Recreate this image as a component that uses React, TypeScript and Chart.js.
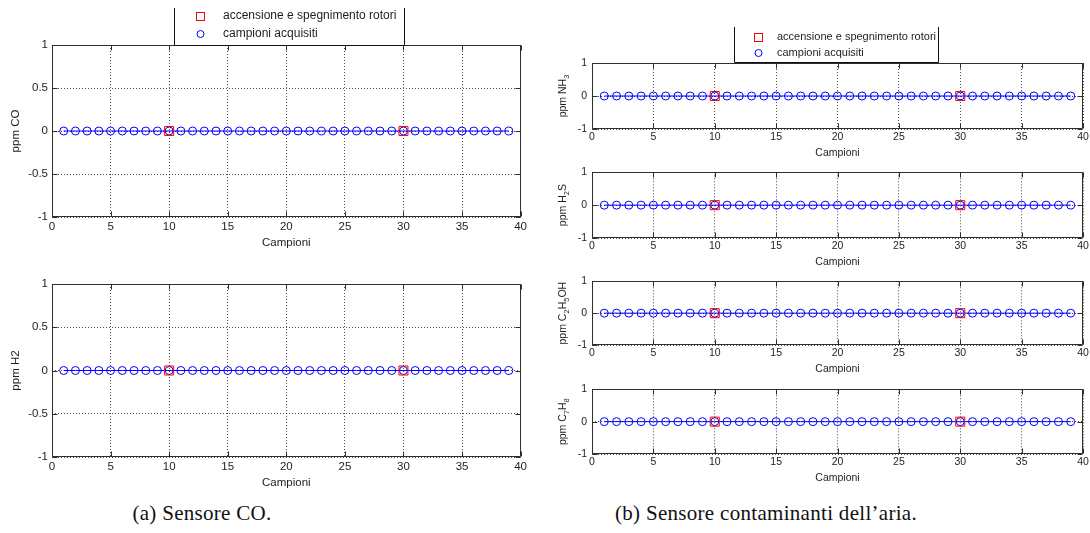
import React, { useEffect, useRef } from 'react';
import { Chart, registerables } from 'chart.js';

Chart.register(...registerables);

// ---------------- data ----------------
const samples = [1, 2, 3, 4, 5, 6, 7, 8, 9, 10, 11, 12, 13, 14, 15, 16, 17, 18, 19, 20, 21, 22, 23, 24, 25, 26, 27, 28, 29, 30, 31, 32, 33, 34, 35, 36, 37, 38, 39];
const coValues = [0, 0, 0, 0, 0, 0, 0, 0, 0, 0, 0, 0, 0, 0, 0, 0, 0, 0, 0, 0, 0, 0, 0, 0, 0, 0, 0, 0, 0, 0, 0, 0, 0, 0, 0, 0, 0, 0, 0];
const h2Values = [0, 0, 0, 0, 0, 0, 0, 0, 0, 0, 0, 0, 0, 0, 0, 0, 0, 0, 0, 0, 0, 0, 0, 0, 0, 0, 0, 0, 0, 0, 0, 0, 0, 0, 0, 0, 0, 0, 0];
const nh3Values = [0, 0, 0, 0, 0, 0, 0, 0, 0, 0, 0, 0, 0, 0, 0, 0, 0, 0, 0, 0, 0, 0, 0, 0, 0, 0, 0, 0, 0, 0, 0, 0, 0, 0, 0, 0, 0, 0, 0];
const h2sValues = [0, 0, 0, 0, 0, 0, 0, 0, 0, 0, 0, 0, 0, 0, 0, 0, 0, 0, 0, 0, 0, 0, 0, 0, 0, 0, 0, 0, 0, 0, 0, 0, 0, 0, 0, 0, 0, 0, 0];
const c2h5ohValues = [0, 0, 0, 0, 0, 0, 0, 0, 0, 0, 0, 0, 0, 0, 0, 0, 0, 0, 0, 0, 0, 0, 0, 0, 0, 0, 0, 0, 0, 0, 0, 0, 0, 0, 0, 0, 0, 0, 0];
const c7h8Values = [0, 0, 0, 0, 0, 0, 0, 0, 0, 0, 0, 0, 0, 0, 0, 0, 0, 0, 0, 0, 0, 0, 0, 0, 0, 0, 0, 0, 0, 0, 0, 0, 0, 0, 0, 0, 0, 0, 0];
const eventSamples = [10, 30];
const eventValues = [0, 0];

const xTickValues = [0, 5, 10, 15, 20, 25, 30, 35, 40];
const yTicksFine = [-1, -0.5, 0, 0.5, 1];
const yTicksCoarse = [-1, 0, 1];
const legendLabels = ['accensione e spegnimento rotori', 'campioni acquisiti'];
const xTitle = 'Campioni';
// "_" marks the next character as a subscript
const yTitles = ['ppm CO', 'ppm H2', 'ppm NH_3', 'ppm H_2S', 'ppm C_2H_5OH', 'ppm C_7H_8'];
const captions = ['(a) Sensore CO.', '(b) Sensore contaminanti dell’aria.'];

// ---------------- styles ----------------
const FONT = '"Liberation Sans", Arial, Helvetica, sans-serif';
const TEXT = '#1e1e1e';
const AXIS = '#2e2e2e';
const GRID = 'rgba(0,0,0,0.7)';
const RED = '#ff0000';
const BLUE = '#0000ff';

type LegendSpec = {
  x0: number; x1: number; y0: number; y1: number;
  markerX: number; textX: number; row1: number; row2: number;
  fontSize: number; square: number; circle: number;
};

function parseRich(s: string) {
  const segs: { t: string; sub: boolean }[] = [];
  let i = 0;
  let buf = '';
  while (i < s.length) {
    if (s[i] === '_' && i + 1 < s.length) {
      if (buf) segs.push({ t: buf, sub: false });
      buf = '';
      segs.push({ t: s[i + 1], sub: true });
      i += 2;
    } else {
      buf += s[i];
      i += 1;
    }
  }
  if (buf) segs.push({ t: buf, sub: false });
  return segs;
}

const matlabAxes = {
  id: 'matlabAxes',
  afterDraw(chart: any, _args: any, opts: any) {
    const { ctx, chartArea: a, scales } = chart;
    ctx.save();
    ctx.strokeStyle = AXIS;
    ctx.lineWidth = 1;
    ctx.setLineDash([]);
    const L = Math.round(a.left) + 0.5;
    const R = Math.round(a.right) - 0.5;
    const T = Math.round(a.top) + 0.5;
    const B = Math.round(a.bottom) - 0.5;
    const tl = opts.tickLength || 5;
    ctx.beginPath();
    ctx.rect(L, T, R - L, B - T);
    scales.x.ticks.forEach((t: any) => {
      const px = Math.round(scales.x.getPixelForValue(t.value)) + 0.5;
      ctx.moveTo(px, B); ctx.lineTo(px, B - tl);
      ctx.moveTo(px, T); ctx.lineTo(px, T + tl);
    });
    scales.y.ticks.forEach((t: any) => {
      const py = Math.round(scales.y.getPixelForValue(t.value)) + 0.5;
      ctx.moveTo(L, py); ctx.lineTo(L + tl, py);
      ctx.moveTo(R, py); ctx.lineTo(R - tl, py);
    });
    ctx.stroke();

    // rotated y title with subscripts
    if (opts.yTitle) {
      const size = opts.titleSize;
      const subSize = size * 0.72;
      const segs = parseRich(opts.yTitle);
      ctx.fillStyle = TEXT;
      ctx.textAlign = 'left';
      ctx.textBaseline = 'middle';
      let total = 0;
      const widths = segs.map((sg) => {
        ctx.font = `${sg.sub ? subSize : size}px ${FONT}`;
        const w = ctx.measureText(sg.t).width;
        total += w;
        return w;
      });
      ctx.save();
      ctx.translate(opts.titleX, (a.top + a.bottom) / 2);
      ctx.rotate(-Math.PI / 2);
      let x = -total / 2;
      segs.forEach((sg, i) => {
        ctx.font = `${sg.sub ? subSize : size}px ${FONT}`;
        ctx.fillText(sg.t, x, sg.sub ? size * 0.42 : 0);
        x += widths[i];
      });
      ctx.restore();
    }

    const lg: LegendSpec | undefined = opts.legend;
    if (lg) {
      ctx.strokeStyle = '#111';
      ctx.beginPath();
      ctx.moveTo(lg.x0 + 0.5, lg.y0);
      ctx.lineTo(lg.x0 + 0.5, lg.y1 - 0.5);
      ctx.lineTo(lg.x1 + 0.5, lg.y1 - 0.5);
      ctx.lineTo(lg.x1 + 0.5, lg.y0);
      ctx.stroke();
      const ds = chart.data.datasets;
      ctx.strokeStyle = ds[0].borderColor;
      const s = lg.square;
      ctx.strokeRect(Math.round(lg.markerX - s / 2) + 0.5, Math.round(lg.row1 - s / 2) + 0.5, s, s);
      ctx.strokeStyle = ds[1].borderColor;
      ctx.beginPath();
      ctx.arc(lg.markerX + 0.5, lg.row2, lg.circle, 0, Math.PI * 2);
      ctx.stroke();
      ctx.fillStyle = TEXT;
      ctx.font = `${lg.fontSize}px ${FONT}`;
      ctx.textAlign = 'left';
      ctx.textBaseline = 'middle';
      ctx.fillText(ds[0].label, lg.textX, lg.row1);
      ctx.fillText(ds[1].label, lg.textX, lg.row2);
    }
    ctx.restore();
  },
};

type SubplotProps = {
  area: [number, number, number, number]; // left, top, right, bottom (page px)
  pad: [number, number, number, number]; // left, top, right, bottom
  values: number[];
  yTicks: number[];
  yTitle: string;
  fontSize: number;
  xTickPad: number;
  yTickPad: number;
  xTitlePad: number;
  yTitleX: number; // page x of the y title centre
  legend?: LegendSpec;
};

function Subplot(p: SubplotProps) {
  const ref = useRef<HTMLCanvasElement>(null);
  const [aL, aT, aR, aB] = p.area;
  const [pL, pT, pR, pB] = p.pad;
  const left = aL - pL;
  const top = aT - pT;
  const width = aR + pR - left;
  const height = aB + pB - top;

  useEffect(() => {
    const legend = p.legend
      ? {
          ...p.legend,
          x0: p.legend.x0 - left,
          x1: p.legend.x1 - left,
          markerX: p.legend.markerX - left,
          textX: p.legend.textX - left,
          y0: p.legend.y0 - top,
          y1: p.legend.y1 - top,
          row1: p.legend.row1 - top,
          row2: p.legend.row2 - top,
        }
      : undefined;
    const font = { family: FONT, size: p.fontSize };
    const chart = new Chart(ref.current as HTMLCanvasElement, {
      type: 'scatter',
      data: {
        datasets: [
          {
            label: legendLabels[0],
            data: eventSamples.map((x, i) => ({ x, y: eventValues[i] })),
            showLine: false,
            pointStyle: 'rect',
            pointRadius: 6.4,
            borderColor: RED,
            backgroundColor: 'rgba(0,0,0,0)',
            pointBorderWidth: 1,
            order: 0,
          },
          {
            label: legendLabels[1],
            data: samples.map((x, i) => ({ x, y: p.values[i] })),
            showLine: true,
            borderColor: BLUE,
            borderWidth: 1,
            backgroundColor: 'rgba(0,0,0,0)',
            pointStyle: 'circle',
            pointRadius: 4,
            pointBorderColor: BLUE,
            pointBackgroundColor: 'rgba(0,0,0,0)',
            pointBorderWidth: 1,
            order: 1,
          },
        ],
      } as any,
      options: {
        responsive: false,
        animation: false,
        events: [],
        layout: { padding: { left: 0, top: pT, right: pR, bottom: 0 } },
        plugins: {
          legend: { display: false },
          tooltip: { enabled: false },
          matlabAxes: {
            tickLength: 5,
            legend,
            yTitle: p.yTitle,
            titleSize: p.fontSize,
            titleX: p.yTitleX - left,
          },
        } as any,
        scales: {
          x: {
            type: 'linear',
            min: 0,
            max: 40,
            afterBuildTicks: (s: any) => {
              s.ticks = xTickValues.map((v) => ({ value: v }));
            },
            afterFit: (s: any) => {
              s.height = pB;
            },
            grid: { color: GRID, lineWidth: 1, drawTicks: false },
            border: { display: false, dash: [1, 2] },
            ticks: {
              font,
              color: TEXT,
              padding: p.xTickPad,
              maxRotation: 0,
              autoSkip: false,
              callback: (v: any) => String(v),
            },
            title: { display: true, text: xTitle, font, color: TEXT, padding: { top: 0, bottom: p.xTitlePad } },
          },
          y: {
            type: 'linear',
            min: -1,
            max: 1,
            afterBuildTicks: (s: any) => {
              s.ticks = p.yTicks.map((v) => ({ value: v }));
            },
            afterFit: (s: any) => {
              s.width = pL;
            },
            grid: { color: GRID, lineWidth: 1, drawTicks: false },
            border: { display: false, dash: [1, 2] },
            ticks: {
              font,
              color: TEXT,
              padding: p.yTickPad,
              autoSkip: false,
              callback: (v: any) => String(v),
            },
            title: { display: false },
          },
        } as any,
      },
      plugins: [matlabAxes as any],
    });
    return () => chart.destroy();
  }, []);

  return (
    <canvas
      ref={ref}
      width={width}
      height={height}
      style={{ position: 'absolute', left, top, width, height }}
    />
  );
}

const LEFT_AREA_X: [number, number] = [52, 522];
const RIGHT_AREA_X: [number, number] = [592, 1083];

const captionStyle: React.CSSProperties = {
  position: 'absolute',
  top: 499,
  textAlign: 'center',
  fontFamily: '"Liberation Serif", "Times New Roman", serif',
  fontSize: 21,
  lineHeight: '28px',
  color: '#111',
  letterSpacing: '0.3px',
  whiteSpace: 'nowrap',
};

export default function App() {
  const leftCommon = { fontSize: 11.5, xTickPad: 3, yTickPad: 4, xTitlePad: 1.5, yTitleX: 16 };
  const rightCommon = { fontSize: 10.5, xTickPad: 1.5, yTickPad: 5, xTitlePad: 0, yTitleX: 563 };
  return (
    <div
      style={{
        position: 'absolute',
        left: 0,
        top: 0,
        width: 1090,
        height: 533,
        overflow: 'hidden',
        background: '#ffffff',
      }}
    >
      <Subplot
        area={[LEFT_AREA_X[0], 45, LEFT_AREA_X[1], 217]}
        pad={[52, 45, 8, 34]}
        values={coValues}
        yTicks={yTicksFine}
        yTitle={yTitles[0]}
        {...leftCommon}
        legend={{ x0: 174, x1: 404, y0: 8, y1: 46, markerX: 200, textX: 223, row1: 16, row2: 34, fontSize: 12, square: 8, circle: 3.5 }}
      />
      <Subplot
        area={[LEFT_AREA_X[0], 284, LEFT_AREA_X[1], 457]}
        pad={[52, 12, 8, 34]}
        values={h2Values}
        yTicks={yTicksFine}
        yTitle={yTitles[1]}
        {...leftCommon}
      />
      <Subplot
        area={[RIGHT_AREA_X[0], 63, RIGHT_AREA_X[1], 129]}
        pad={[52, 43, 8, 30]}
        values={nh3Values}
        yTicks={yTicksCoarse}
        yTitle={yTitles[2]}
        {...rightCommon}
        legend={{ x0: 734, x1: 938, y0: 27, y1: 63, markerX: 758, textX: 777, row1: 37, row2: 53, fontSize: 11, square: 8, circle: 3.5 }}
      />
      <Subplot
        area={[RIGHT_AREA_X[0], 171, RIGHT_AREA_X[1], 238]}
        pad={[52, 10, 8, 30]}
        values={h2sValues}
        yTicks={yTicksCoarse}
        yTitle={yTitles[3]}
        {...rightCommon}
      />
      <Subplot
        area={[RIGHT_AREA_X[0], 280, RIGHT_AREA_X[1], 345]}
        pad={[52, 10, 8, 30]}
        values={c2h5ohValues}
        yTicks={yTicksCoarse}
        yTitle={yTitles[4]}
        {...rightCommon}
      />
      <Subplot
        area={[RIGHT_AREA_X[0], 388, RIGHT_AREA_X[1], 454]}
        pad={[52, 10, 8, 30]}
        values={c7h8Values}
        yTicks={yTicksCoarse}
        yTitle={yTitles[5]}
        {...rightCommon}
      />
      <div style={{ ...captionStyle, left: 0, width: 404 }}>{captions[0]}</div>
      <div style={{ ...captionStyle, left: 466, width: 600 }}>{captions[1]}</div>
    </div>
  );
}
